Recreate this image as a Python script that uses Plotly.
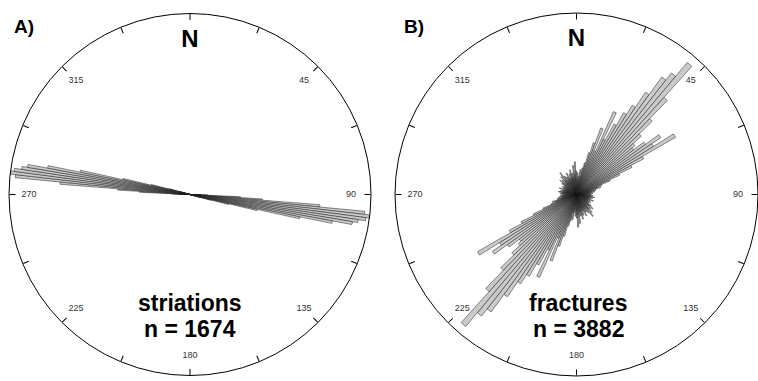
import plotly.graph_objects as go

# ---- data ----
# Striations: 1-degree bins (axial data, mirrored at +180)
striation_theta = [90, 91, 92, 93, 94, 95, 96, 97, 98, 99, 100, 101, 102, 103, 104, 105, 106, 107]
striation_r = [3, 6, 10, 28, 40, 72, 97, 100, 98, 94, 91, 80, 62, 38, 22, 12, 6, 3]

# Fractures: 2-degree bins (bin centres), axial data mirrored at +180
fracture_theta = list(range(1, 180, 2))
fracture_r = [9, 12, 7, 10, 14, 9, 15, 18, 24, 30,
              39, 26, 50, 34, 44, 52, 58, 68, 80, 85,
              95, 72, 58, 48, 42, 40, 47, 56, 50, 63,
              42, 34, 26, 20, 15, 12, 14, 9, 11, 8,
              10, 7, 9, 6, 8, 6, 9, 7, 8, 10,
              7, 9, 6, 8, 7, 10, 6, 8, 7, 9,
              6, 8, 7, 10, 8, 12, 9, 11, 8, 13,
              10, 15, 9, 12, 8, 11, 9, 13, 10, 8,
              12, 9, 14, 10, 12, 9, 16, 11, 18, 13]

tick_vals = [0, 22.5, 45, 67.5, 90, 112.5, 135, 157.5, 180, 202.5, 225, 247.5, 270, 292.5, 315, 337.5]
label_theta = [45, 90, 135, 180, 225, 270, 315]
label_text = ["45", "90", "135", "180", "225", "270", "315"]

panels = [
    {"name": "A)", "title": "striations", "n": "n = 1674", "theta": striation_theta, "r": striation_r, "width": 1},
    {"name": "B)", "title": "fractures", "n": "n = 3882", "theta": fracture_theta, "r": fracture_r, "width": 2},
]

FONT = "Liberation Sans, Arial, sans-serif"

fig = go.Figure()

for i, p in enumerate(panels):
    sub = "polar" if i == 0 else "polar2"
    th = p["theta"] + [t + 180 for t in p["theta"]]
    rr = p["r"] + p["r"]
    fig.add_trace(go.Barpolar(
        theta=th, r=rr, width=[p["width"]] * len(th),
        marker=dict(color="#cacaca", line=dict(color="#1a1a1a", width=0.5)),
        subplot=sub, showlegend=False, hoverinfo="skip",
    ))
    fig.add_trace(go.Scatterpolar(
        theta=label_theta, r=[89] * len(label_theta), text=label_text,
        mode="text", textfont=dict(family=FONT, size=9, color="#333333"),
        subplot=sub, showlegend=False, hoverinfo="skip",
    ))
    fig.add_trace(go.Scatterpolar(
        theta=[0], r=[85], text=["N"], mode="text",
        textfont=dict(family=FONT, size=24, color="black", weight="bold"),
        subplot=sub, showlegend=False, hoverinfo="skip",
    ))

polar_common = dict(
    bgcolor="white",
    bargap=0,
    radialaxis=dict(visible=False, range=[0, 100]),
    angularaxis=dict(
        direction="clockwise", rotation=90,
        tickmode="array", tickvals=tick_vals,
        showticklabels=False, ticks="inside", ticklen=6, tickwidth=1, tickcolor="black",
        showgrid=False, showline=True, linecolor="black", linewidth=1,
    ),
)

fig.update_layout(
    width=758, height=381,
    margin=dict(l=0, r=0, t=0, b=0),
    paper_bgcolor="white",
    polar=dict(domain=dict(x=[9 / 758, 371 / 758], y=[1 - 377 / 381, 1 - 12 / 381]), **polar_common),
    polar2=dict(domain=dict(x=[395 / 758, 1.0], y=[1 - 377 / 381, 1 - 12 / 381]), **polar_common),
)

centers = [190 / 758, 578 / 758]
label_x = [24 / 758, 414 / 758]
for i, p in enumerate(panels):
    fig.add_annotation(x=label_x[i], y=1 - 27 / 381, xref="paper", yref="paper", text=p["name"],
                       xanchor="center", yanchor="middle",
                       showarrow=False, font=dict(family=FONT, size=19, color="black", weight="bold"))
    fig.add_annotation(x=centers[i], y=1 - 303 / 381, xref="paper", yref="paper", text=p["title"],
                       xanchor="center", yanchor="middle",
                       showarrow=False, font=dict(family=FONT, size=23, color="black", weight="bold"))
    fig.add_annotation(x=centers[i], y=1 - 329 / 381, xref="paper", yref="paper", text=p["n"],
                       xanchor="center", yanchor="middle",
                       showarrow=False, font=dict(family=FONT, size=23, color="black", weight="bold"))

fig.write_html(
    "out.html",
    config={"displayModeBar": False},
    post_script="document.body.style.margin='0';document.body.style.overflow='hidden';",
)
